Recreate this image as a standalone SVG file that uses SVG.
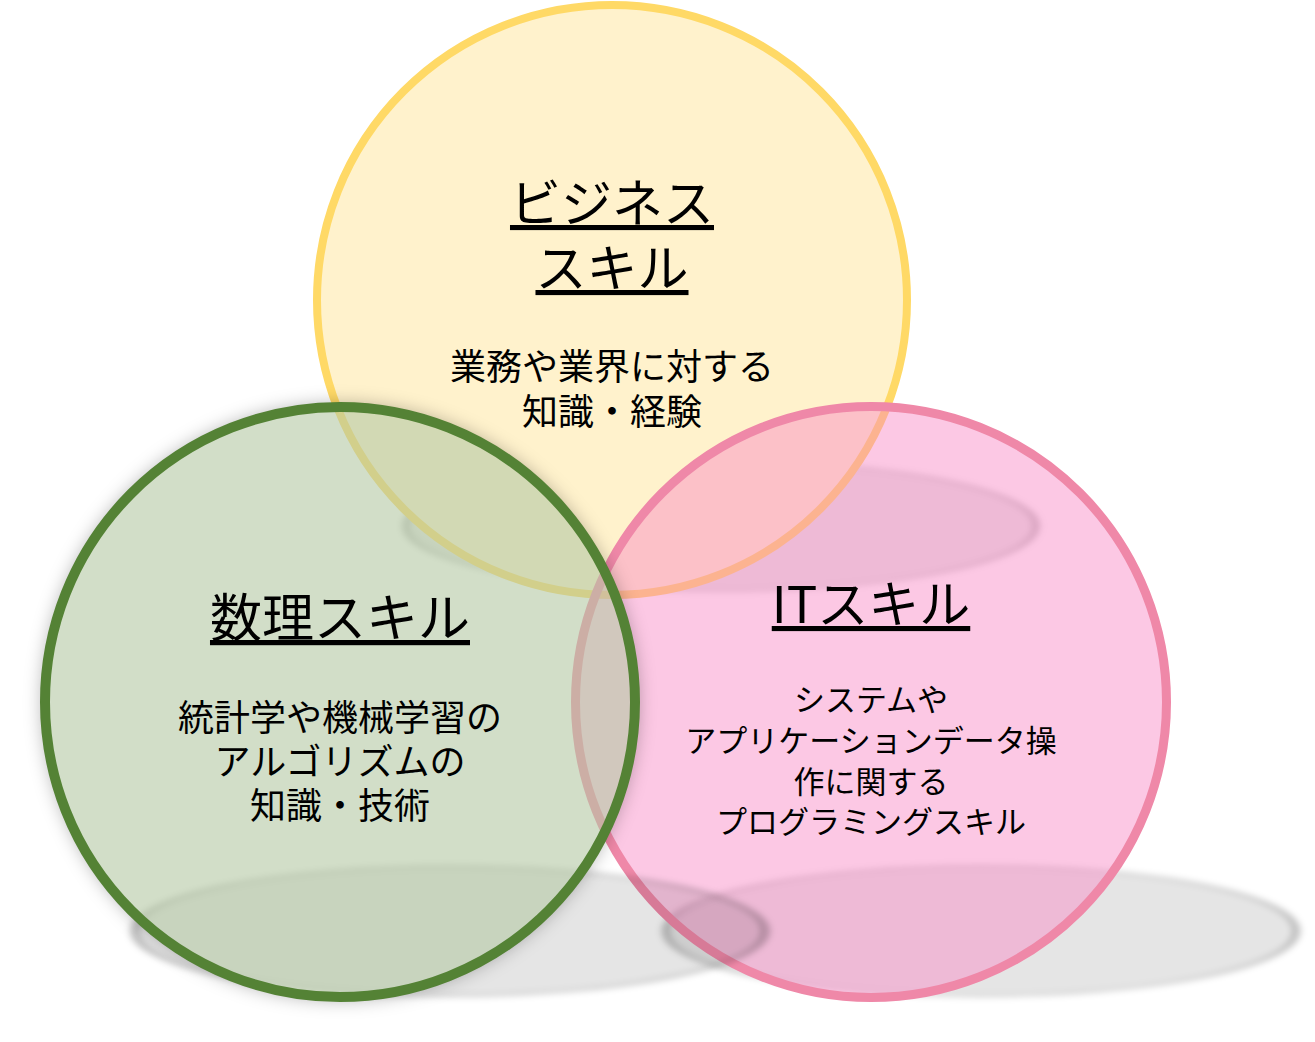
<svg xmlns="http://www.w3.org/2000/svg" width="1315" height="1042" viewBox="0 0 1315 1042">
<style>
.t{font-family:"Noto Sans CJK JP","Noto Sans",sans-serif;fill:#000;text-anchor:middle}
.h{font-size:51px;text-decoration:underline}
.s{font-size:36px}
.p{font-size:31px}
.shadow{fill:#000;fill-opacity:0.1;stroke:#000;stroke-opacity:0.18}
</style>
<defs>
<filter id="blur" x="-10%" y="-30%" width="120%" height="160%"><feGaussianBlur stdDeviation="3"/></filter>
<filter id="haloBlur" x="-10%" y="-10%" width="120%" height="120%"><feGaussianBlur stdDeviation="9"/></filter>
<mask id="outG" maskUnits="userSpaceOnUse" x="0" y="0" width="1315" height="1042">
<rect width="1315" height="1042" fill="#fff"/>
<circle cx="340" cy="702" r="296" fill="#000"/>
</mask>
</defs>
<rect width="1315" height="1042" fill="#fff"/>

<g id="node-business">
<g filter="url(#blur)"><g transform="translate(721,526) scale(1.07,0.22)"><circle class="shadow" r="295" stroke-width="8"/></g></g>
<circle cx="612" cy="300" r="295" fill="#fff2cc" stroke="#ffd966" stroke-width="8"/>
<text class="t h" x="612" y="222">ビジネス</text>
<text class="t h" x="612" y="287">スキル</text>
<text class="t s" x="612" y="380">業務や業界に対する</text>
<text class="t s" x="612" y="425">知識・経験</text>
</g>

<g id="node-it">
<g filter="url(#blur)"><g transform="translate(981,931) scale(1.07,0.22)"><circle class="shadow" r="295" stroke-width="9"/></g></g>
<circle cx="871" cy="702" r="295.5" fill="#f985c4" fill-opacity="0.45" stroke="#ef88a8" stroke-width="9"/>
<text class="t h" x="871" y="623">ITスキル</text>
<text class="t p" x="871" y="711">システムや</text>
<text class="t p" x="871" y="752">アプリケーションデータ操</text>
<text class="t p" x="871" y="793">作に関する</text>
<text class="t p" x="871" y="833">プログラミングスキル</text>
</g>

<g id="node-math">
<g filter="url(#blur)"><g transform="translate(450,931) scale(1.07,0.22)"><circle class="shadow" r="295" stroke-width="10"/></g></g>
<g mask="url(#outG)"><circle cx="340" cy="702" r="298" fill="#000" fill-opacity="0.3" filter="url(#haloBlur)"/></g>
<circle cx="340" cy="702" r="295" fill="#b4c8a3" fill-opacity="0.6" stroke="#548235" stroke-width="10"/>
<text class="t h" x="340" y="637" style="font-size:52px">数理スキル</text>
<text class="t s" x="340" y="731">統計学や機械学習の</text>
<text class="t s" x="340" y="775">アルゴリズムの</text>
<text class="t s" x="340" y="819">知識・技術</text>
</g>
</svg>
